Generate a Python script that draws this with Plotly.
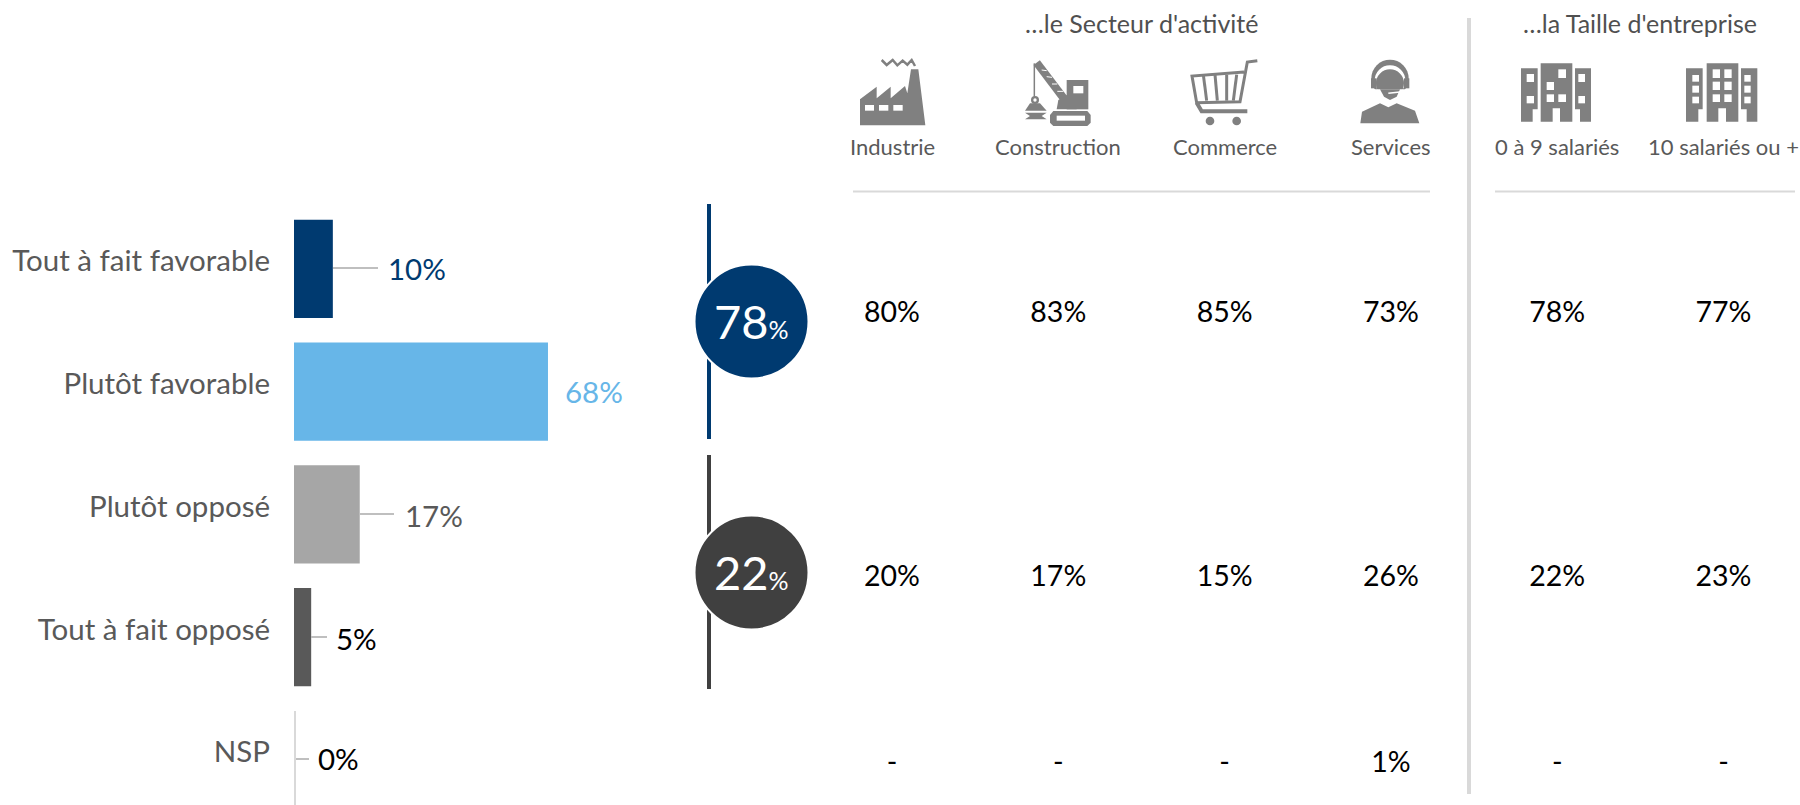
import plotly.graph_objects as go

# ---------- data ----------
categories = ["Tout à fait favorable", "Plutôt favorable", "Plutôt opposé", "Tout à fait opposé", "NSP"]
bar_values = [10.4, 68, 17.6, 4.6, 0]
bar_labels = ["10%", "68%", "17%", "5%", "0%"]
bar_colors = ["#003A70", "#67B6E8", "#A6A6A6", "#595959", "#D9D9D9"]
label_colors = ["#003A70", "#67B6E8", "#595959", "#000000", "#000000"]

columns = ["Industrie", "Construction", "Commerce", "Services", "0 à 9 salariés", "10 salariés ou +"]
row_favorable = ["80%", "83%", "85%", "73%", "78%", "77%"]
row_opposed = ["20%", "17%", "15%", "26%", "22%", "23%"]
row_nsp = ["-", "-", "-", "1%", "-", "-"]
summary_values = ["78", "22"]
summary_colors = ["#003A70", "#404040"]
header_texts = ["…le Secteur d'activité", "…la Taille d'entreprise"]

# ---------- layout constants (pixels on the 1800x805 page) ----------
W, H = 1800, 805
FONT = "Lato"
BAR_X0 = 294
PX_PER_UNIT = 3.735
PLOT_TOP = 207.6
label_left = [386, 563, 403, 334, 316]
label_mid = [268, 391, 515, 638, 758]
leaders = [(333, 378, 268), (360, 394, 514), (311, 327, 637), (296, 309, 759)]
row_y = [315, 579, 765]
col_first, col_step = 892, 166.3
ICON = "#808080"

fig = go.Figure()

fig.add_trace(go.Bar(
    y=categories, x=bar_values, orientation="h", width=0.8,
    marker=dict(color=bar_colors, line=dict(width=0)),
    xaxis="x", yaxis="y", hoverinfo="skip", showlegend=False,
))

# circles
fig.add_trace(go.Scatter(
    x=[751.5, 751.5], y=[321.5, 572.5], mode="markers", xaxis="x2", yaxis="y2",
    marker=dict(size=114, color=summary_colors, line=dict(color="#FFFFFF", width=2)),
    hoverinfo="skip", showlegend=False,
))

# table values
for vals, y in zip([row_favorable, row_opposed, row_nsp], row_y):
    fig.add_trace(go.Scatter(
        x=columns, y=[y] * len(columns), text=vals, mode="text", xaxis="x3", yaxis="y2",
        textposition="middle center", textfont=dict(family=FONT, size=28.5, color="#000000"),
        hoverinfo="skip", showlegend=False,
    ))

shapes = []
def line(x0, y0, x1, y1, color, width):
    shapes.append(dict(type="line", xref="x2", yref="y2", x0=x0, y0=y0, x1=x1, y1=y1,
                       line=dict(color=color, width=width), layer="below"))

def poly(ox, oy, pts, color=ICON):
    d = "M" + " L".join(f"{ox + a / 3:.2f},{oy + b / 3:.2f}" for a, b in pts) + " Z"
    shapes.append(dict(type="path", xref="x2", yref="y2", path=d, fillcolor=color,
                       line=dict(width=0), layer="above"))

def rect(ox, oy, x0, y0, x1, y1, color="#FFFFFF"):
    poly(ox, oy, [(x0, y0), (x1, y0), (x1, y1), (x0, y1)], color)

def stroke(ox, oy, pts, width, color=ICON):
    d = "M" + " L".join(f"{ox + a / 3:.2f},{oy + b / 3:.2f}" for a, b in pts)
    shapes.append(dict(type="path", xref="x2", yref="y2", path=d,
                       line=dict(color=color, width=width), layer="above"))

def circle(ox, oy, cx, cy, r, color=ICON):
    shapes.append(dict(type="circle", xref="x2", yref="y2",
                       x0=ox + (cx - r) / 3, x1=ox + (cx + r) / 3,
                       y0=oy + (cy - r) / 3, y1=oy + (cy + r) / 3,
                       fillcolor=color, line=dict(width=0), layer="above"))

# leaders, NSP axis line, brackets, rules
for x0, x1, y in leaders:
    line(x0, y, x1, y, "#BFBFBF", 2)
line(295, 711, 295, 805, "#D9D9D9", 2)
line(709, 204, 709, 439, "#003A70", 4)
line(709, 455, 709, 689, "#404040", 4)
line(853, 191.5, 1430, 191.5, "#D9D9D9", 2)
line(1495, 191.5, 1795, 191.5, "#D9D9D9", 2)
line(1469, 18, 1469, 794, "#D9D9D9", 4)

# factory
ox, oy = 850, 50
poly(ox, oy, [(30, 226), (30, 148), (80, 110), (80, 145), (122, 110), (122, 145), (165, 108),
              (172, 130), (183, 58), (205, 58), (226, 226)])
for a, b in [(45, 72), (87, 115), (130, 158)]:
    rect(ox, oy, a, 165, b, 182)
stroke(ox, oy, [(95, 30), (110, 45), (128, 30), (142, 46), (158, 32), (172, 44), (185, 30), (195, 48)], 2.5)

# crane
stroke(ox, oy, [(560, 38), (645, 150)], 8)
for t in [(575, 60, 590, 62), (590, 80, 606, 82), (606, 102, 622, 102), (622, 124, 640, 124)]:
    stroke(ox, oy, [(t[0], t[1]), (t[2], t[3])], 1, "#FFFFFF")
stroke(ox, oy, [(553, 40), (553, 140)], 1.5)
rect(ox, oy, 650, 90, 715, 178, ICON)
rect(ox, oy, 670, 108, 700, 130)
poly(ox, oy, [(625, 150), (660, 130), (680, 178), (620, 178)])
poly(ox, oy, [(610, 183), (712, 183), (722, 195), (722, 218), (712, 228), (610, 228), (600, 218), (600, 195)])
rect(ox, oy, 620, 197, 705, 212)
circle(ox, oy, 555, 150, 12)
circle(ox, oy, 555, 150, 5, "#FFFFFF")
poly(ox, oy, [(540, 160), (570, 160), (590, 182), (525, 182)])
poly(ox, oy, [(525, 188), (590, 188), (575, 198), (590, 208), (525, 208), (540, 198)])

# cart
ox, oy = 1180, 50
stroke(ox, oy, [(232, 32), (202, 36), (180, 155), (50, 158), (36, 78), (192, 66)], 3)
stroke(ox, oy, [(50, 158), (65, 184), (202, 184)], 4)
for top_x, bottom_x in [(70, 80), (105, 112), (140, 140), (170, 160)]:
    stroke(ox, oy, [(top_x, 74), (bottom_x, 152)], 3)
circle(ox, oy, 90, 213, 13)
circle(ox, oy, 170, 213, 13)

# operator
circle(ox, oy, 630, 85, 56)
circle(ox, oy, 630, 92, 46, "#FFFFFF")
circle(ox, oy, 630, 100, 42)
rect(ox, oy, 573, 85, 590, 115, ICON)
rect(ox, oy, 672, 85, 688, 115, ICON)
rect(ox, oy, 574, 118, 690, 145, "#FFFFFF")
poly(ox, oy, [(600, 118), (660, 118), (650, 140), (630, 150), (612, 140)])
stroke(ox, oy, [(625, 130), (660, 126)], 1.5, "#FFFFFF")
poly(ox, oy, [(541, 220), (546, 185), (600, 160), (625, 172), (650, 160), (705, 182), (718, 220)])

# buildings
ox, oy = 1510, 50
def building(ox, oy, left, center, right, windows):
    poly(ox, oy, left); poly(ox, oy, center); poly(ox, oy, right)
    for w in windows:
        rect(ox, oy, *w)

building(ox, oy,
    [(33, 55), (83, 55), (83, 178), (68, 178), (68, 215), (33, 215)],
    [(92, 40), (187, 40), (187, 215), (150, 215), (150, 175), (128, 175), (128, 215), (92, 215)],
    [(195, 55), (243, 55), (243, 215), (210, 215), (210, 178), (195, 178)],
    [(50, 72, 72, 96), (50, 138, 72, 160), (145, 58, 168, 84), (110, 96, 132, 120), (110, 133, 132, 156),
     (145, 133, 168, 156), (205, 72, 225, 96), (205, 138, 225, 160)])
building(ox, oy,
    [(528, 55), (578, 55), (578, 178), (565, 178), (565, 215), (528, 215)],
    [(590, 40), (685, 40), (685, 215), (648, 215), (648, 175), (625, 175), (625, 215), (590, 215)],
    [(693, 55), (742, 55), (742, 215), (710, 215), (710, 178), (693, 178)],
    [(547, 75, 567, 95), (547, 107, 567, 128), (547, 140, 567, 160),
     (608, 58, 630, 84), (643, 58, 665, 84), (608, 95, 630, 120), (643, 95, 665, 120),
     (608, 133, 630, 156), (643, 133, 665, 156),
     (703, 75, 722, 95), (703, 107, 722, 128), (703, 140, 722, 160)])

annotations = []
def note(x, y, text, size, color, anchor="center"):
    annotations.append(dict(xref="x2", yref="y2", x=x, y=y, text=text, showarrow=False,
                            xanchor=anchor, yanchor="middle",
                            font=dict(family=FONT, size=size, color=color)))

for lab, c, x, y in zip(bar_labels, label_colors, label_left, label_mid):
    note(x, y, lab, 29.5, c, "left")
for val, y in zip(summary_values, [321, 572]):
    note(751, y, f'{val}<span style="font-size:25px">%</span>', 47, "#FFFFFF")
note(1141, 23, header_texts[0], 25, "#505050")
note(1640, 23, header_texts[1], 25, "#505050")
for i, c in enumerate(columns):
    note(col_first + i * col_step, 146, c, 22, "#595959")

fig.update_layout(
    width=W, height=H, margin=dict(l=0, r=0, t=0, b=0, autoexpand=False),
    paper_bgcolor="#FFFFFF", plot_bgcolor="rgba(0,0,0,0)",
    font=dict(family=FONT), showlegend=False, bargap=0.2,
    shapes=shapes, annotations=annotations,
    xaxis=dict(domain=[BAR_X0 / W, 700 / W], range=[0, (700 - BAR_X0) / PX_PER_UNIT],
               visible=False, fixedrange=True),
    yaxis=dict(domain=[0, (H - PLOT_TOP) / H], type="category", categoryorder="array",
               categoryarray=categories, range=[4.367, -0.5], anchor="x",
               showline=False, showgrid=False, zeroline=False, ticks="",
               ticklabelstandoff=23, ticklabelshift=8,
               tickfont=dict(family=FONT, size=29.5, color="#595959"), fixedrange=True),
    xaxis2=dict(domain=[0, 1], range=[0, W], visible=False, anchor="y2", fixedrange=True),
    yaxis2=dict(domain=[0, 1], range=[H, 0], visible=False, anchor="x2", fixedrange=True),
    xaxis3=dict(domain=[(col_first - col_step / 2) / W, 1], type="category", categoryorder="array",
                categoryarray=columns,
                range=[-0.5, -0.5 + (W - col_first + col_step / 2) / col_step],
                visible=False, anchor="y2", fixedrange=True),
)
fig.write_html("out.html", config=dict(displayModeBar=False),
               post_script="document.body.style.margin='0';")
